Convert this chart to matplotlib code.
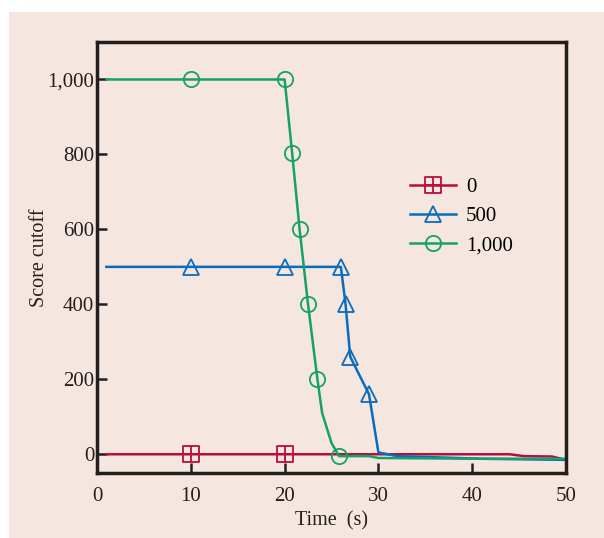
import numpy as np
import matplotlib
matplotlib.use('Agg')
import matplotlib.pyplot as plt
from matplotlib.path import Path
from matplotlib.patches import Rectangle
from matplotlib.lines import Line2D

plt.rcParams['font.family'] = ['Liberation Serif', 'DejaVu Serif']

# series "0"
t0 = [1, 10, 20, 44, 45.5, 48.5, 50]
s0 = [0, 0, 0, 0, -5, -6, -15]
mk0 = [1, 2]

# series "500"
t500 = [1, 10, 20, 26, 26.5, 27, 29, 30, 32, 36, 41, 50]
s500 = [500, 500, 500, 500, 400, 260, 160, 5, -5, -8, -12, -15]
mk500 = [1, 2, 3, 4, 5, 6]

# series "1,000"
t1000 = [1, 10, 20, 20.8, 21.6, 22.5, 23.5, 24, 25, 25.8, 29, 30, 41, 50]
s1000 = [1000, 1000, 1000, 805, 600, 400, 200, 110, 30, -5, -5, -10, -12, -12]
mk1000 = [1, 2, 3, 4, 5, 6, 9]

labels = ['0', '500', '1,000']
colors = ['#b80d3e', '#0a6cbc', '#15a06c']

# square with a cross inside
verts = [(-1, -1), (1, -1), (1, 1), (-1, 1), (-1, -1),
         (0, -1), (0, 1), (-1, 0), (1, 0)]
codes = [Path.MOVETO, Path.LINETO, Path.LINETO, Path.LINETO, Path.CLOSEPOLY,
         Path.MOVETO, Path.LINETO, Path.MOVETO, Path.LINETO]
boxcross = Path(verts, codes)

markers = [boxcross, '^', 'o']
sizes = [11, 11, 11]
series = [(t0, s0, mk0), (t500, s500, mk500), (t1000, s1000, mk1000)]

fig = plt.figure(figsize=(6.04, 5.38), dpi=100, facecolor='white')
fig.patches.append(Rectangle((9 / 604, 0), 1, (538 - 12) / 538,
                             transform=fig.transFigure, facecolor='#f5e6df',
                             edgecolor='none', zorder=-1))
ax = fig.add_axes([97 / 604, (538 - 473) / 538, (566 - 97) / 604, (473 - 42) / 538])
ax.set_facecolor('none')

handles = []
for (t, s, mk), c, m, ms, lab in zip(series, colors, markers, sizes, labels):
    ax.plot(t, s, color=c, lw=1.8, marker=m, ms=ms, mfc='none', mew=1.3, markevery=mk)
    handles.append(Line2D([], [], color=c, lw=1.8, marker=m, ms=ms, mfc='none',
                          mew=1.3, label=lab))

ax.set_xlim(0, 50)
ax.set_ylim(-50, 1100)
ax.set_xticks([0, 10, 20, 30, 40, 50])
ax.set_yticks([0, 200, 400, 600, 800, 1000])
ax.set_yticklabels(['0', '200', '400', '600', '800', '1,000'])
ax.tick_params(direction='in', length=7, width=1.8, labelsize=15, color='#231f20',
               labelcolor='#231f20')
ax.tick_params(axis='y', pad=2)
ax.tick_params(axis='x', pad=10)
for sp in ax.spines.values():
    sp.set_linewidth(2.5)
    sp.set_color('#231f20')

ax.set_xlabel('Time  (s)', fontsize=14.5, color='#231f20', labelpad=4)
ax.set_ylabel('Score cutoff', fontsize=14.5, color='#231f20', labelpad=-1)

ax.legend(handles=handles, loc='upper left', bbox_to_anchor=(0.627, 0.729),
          frameon=False, fontsize=15, numpoints=1, handlelength=2.2,
          labelspacing=0.45, handletextpad=0.5)

fig.savefig('out.png', dpi=100, facecolor=fig.get_facecolor())
